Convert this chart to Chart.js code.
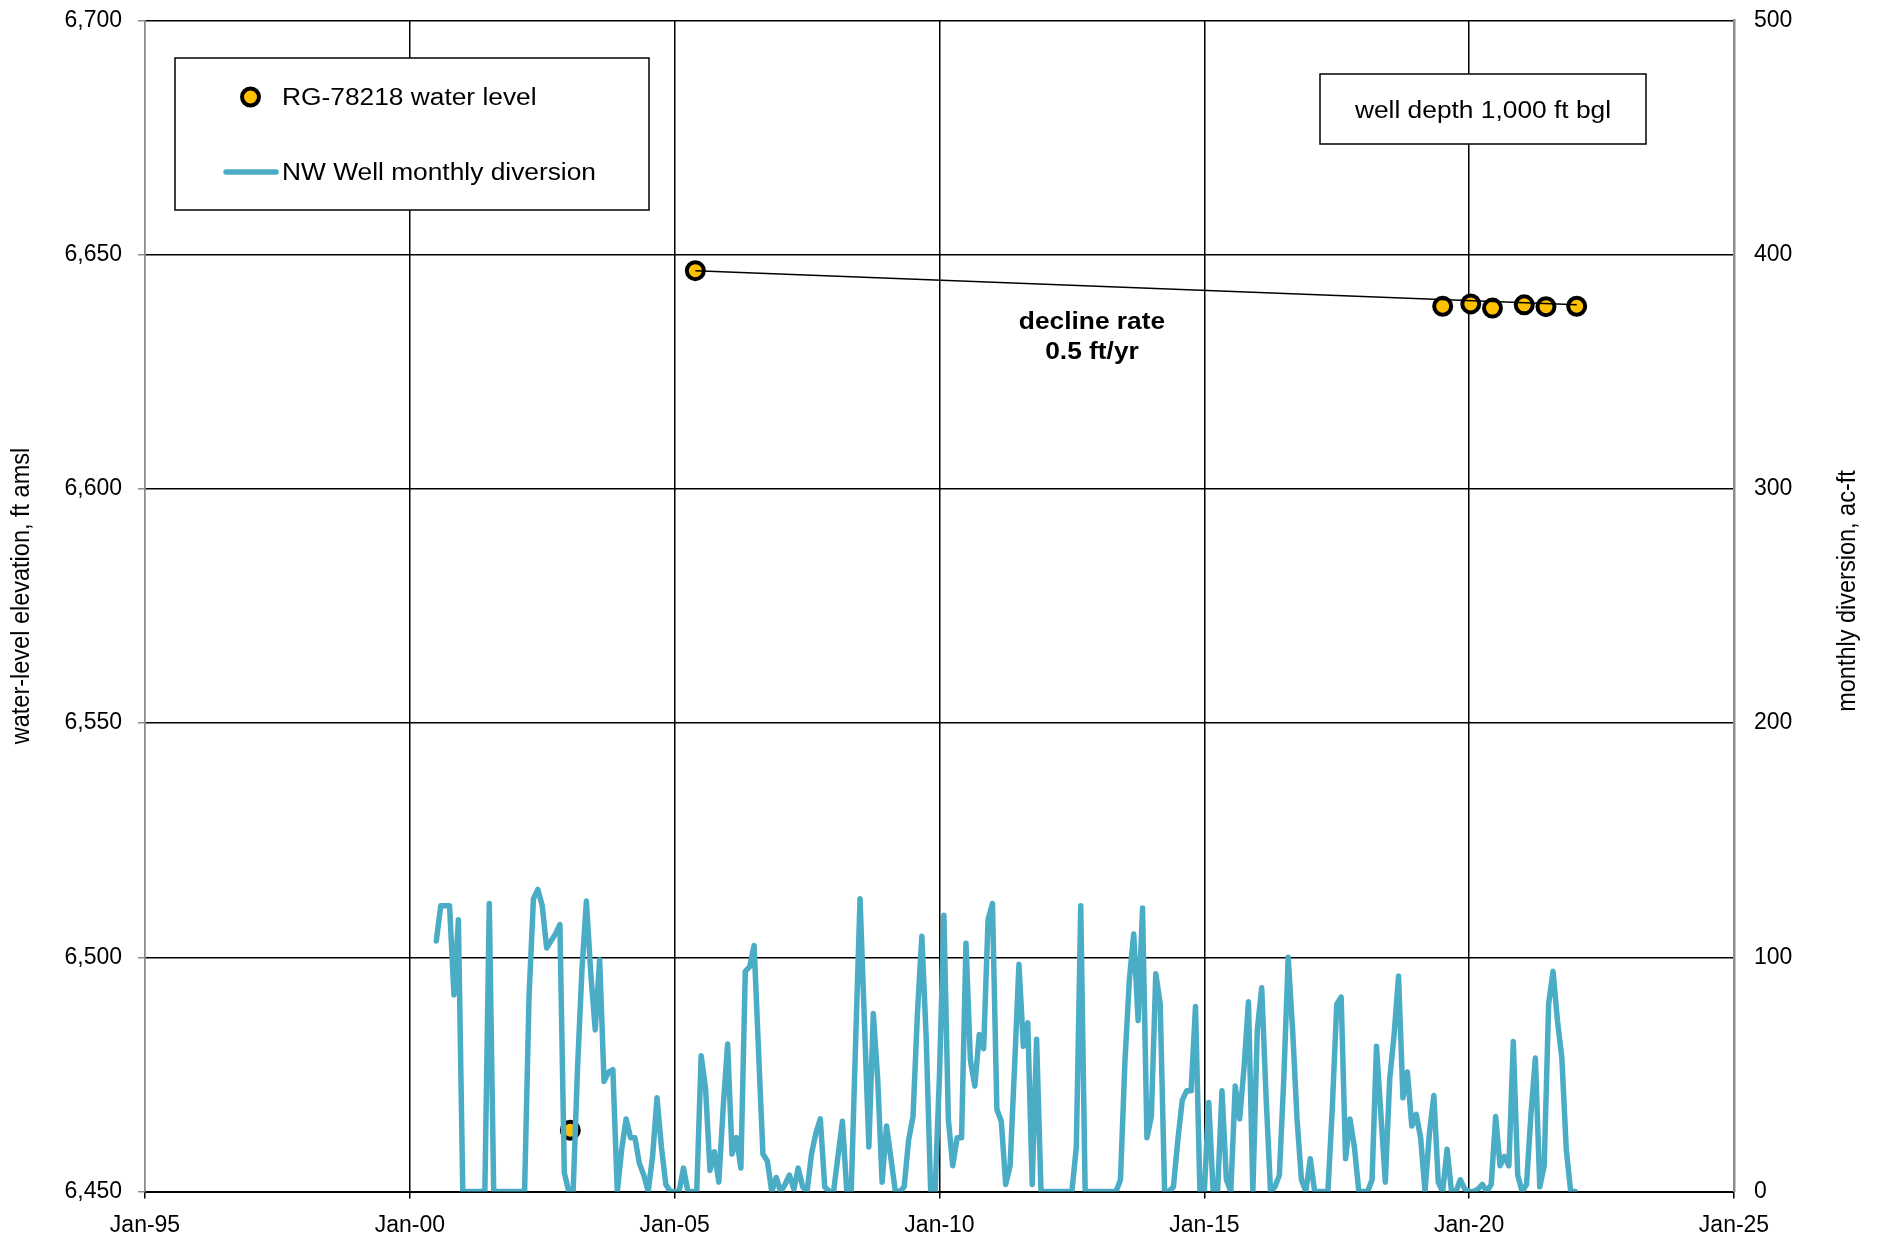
<!DOCTYPE html>
<html>
<head>
<meta charset="utf-8">
<script src="https://cdn.jsdelivr.net/npm/chart.js@4.4.1/dist/chart.umd.min.js"></script>
<style>
  html, body { margin: 0; padding: 0; background: #fff; }
  canvas { display: block; }
</style>
</head>
<body>
<canvas id="c" width="1881" height="1236"></canvas>
<script>
// ---------------- data ----------------
const xTickYears = [1995, 2000, 2005, 2010, 2015, 2020, 2025];
const leftTicks = [6450, 6500, 6550, 6600, 6650, 6700];
const rightTicks = [0, 100, 200, 300, 400, 500];

// RG-78218 water level (decimal year, ft amsl)
const waterDates  = [2003.03, 2005.39, 2019.50, 2020.03, 2020.44, 2021.04, 2021.45, 2022.03];
const waterLevels = [6463.1, 6646.6, 6639.0, 6639.5, 6638.6, 6639.3, 6638.9, 6639.0];

// trend line (decline rate 0.5 ft/yr)
const trendDates  = [2005.39, 2022.03];
const trendLevels = [6646.6, 6639.3];

// NW Well monthly diversion, ac-ft, monthly starting Jul 2000
const diversionStartYear = 2000;
const diversionStartMonth = 7;
const diversionValues = [
  107,122,122,122,84,116,0,0,0,0,0,0,123,0,0,0,0,0,0,0,0,83,125,129,
  122,104,107,110,114,8,0,0,53,95,124,93,69,99,47,51,52,0,18,31,23,23,12,7,
  0,15,40,19,3,0,0,0,10,0,0,0,58,44,9,17,4,36,63,16,23,10,94,96,
  105,60,16,13,0,6,0,3,7,1,10,2,0,16,25,31,2,0,0,15,30,0,0,64,
  125,72,19,76,48,4,28,14,0,0,2,22,32,76,109,65,0,0,50,118,31,11,23,23,
  106,56,45,67,61,116,123,35,30,3,11,53,97,62,72,3,65,0,0,0,0,0,0,0,
  0,19,122,0,0,0,0,0,0,0,0,5,55,90,110,73,121,23,32,93,80,0,0,2,
  22,39,43,43,79,0,0,38,0,0,43,5,0,45,31,53,81,0,69,87,40,0,2,7,
  48,100,69,31,5,0,14,0,0,0,0,36,80,83,14,31,19,0,0,0,5,62,33,4,
  48,67,92,40,51,28,33,23,0,25,41,4,0,18,0,0,5,1,0,0,1,3,0,3,
  32,11,15,11,64,7,0,3,33,57,2,11,80,94,73,57,18,0,0
];

// ---------------- build datasets ----------------
const divPoints = diversionValues.map((v, i) => ({
  x: diversionStartYear + (diversionStartMonth - 1 + i) / 12,
  y: v
}));
const waterPoints = waterDates.map((d, i) => ({ x: d, y: waterLevels[i] }));
const trendPoints = trendDates.map((d, i) => ({ x: d, y: trendLevels[i] }));

const BLUE = '#4BACC6';
const GOLD = '#FFC000';
const FONT = 'Liberation Sans, Arial, sans-serif';
const SX = 1.12; // horizontal stretch of the original artwork text

const overlay = {
  id: 'overlay',
  afterDraw(chart) {
    const ctx = chart.ctx;
    function drawText(str, x, y, font, align, rot) {
      ctx.save();
      ctx.translate(x, y);
      ctx.scale(SX, 1);
      if (rot) ctx.rotate(rot);
      ctx.font = font;
      ctx.textAlign = align;
      ctx.textBaseline = 'middle';
      ctx.fillStyle = '#000';
      ctx.fillText(str, 0, 0);
      ctx.restore();
    }
    ctx.save();
    // legend box
    ctx.fillStyle = '#fff';
    ctx.fillRect(175, 58, 474, 152);
    ctx.strokeStyle = '#000';
    ctx.lineWidth = 1.5;
    ctx.strokeRect(175, 58, 474, 152);
    // legend marker
    ctx.beginPath();
    ctx.arc(250.5, 97, 8.5, 0, Math.PI * 2);
    ctx.fillStyle = GOLD;
    ctx.fill();
    ctx.lineWidth = 4;
    ctx.strokeStyle = '#000';
    ctx.stroke();
    // legend line
    ctx.beginPath();
    ctx.moveTo(226, 172);
    ctx.lineTo(276, 172);
    ctx.strokeStyle = BLUE;
    ctx.lineWidth = 5.5;
    ctx.lineCap = 'round';
    ctx.stroke();
    ctx.restore();
    drawText('RG-78218 water level', 282, 99, '23.5px ' + FONT, 'left');
    drawText('NW Well monthly diversion', 282, 174, '23.5px ' + FONT, 'left');

    // well depth box
    ctx.save();
    ctx.fillStyle = '#fff';
    ctx.fillRect(1320, 74, 326, 70);
    ctx.strokeStyle = '#000';
    ctx.lineWidth = 1.5;
    ctx.strokeRect(1320, 74, 326, 70);
    ctx.restore();
    drawText('well depth 1,000 ft bgl', 1483, 112, '23.5px ' + FONT, 'center');

    // decline rate label
    drawText('decline rate', 1092, 323, 'bold 23.5px ' + FONT, 'center');
    drawText('0.5 ft/yr', 1092, 353, 'bold 23.5px ' + FONT, 'center');

    // axis titles
    drawText('water-level elevation, ft amsl', 22, 596, '23.5px ' + FONT, 'center', -Math.PI / 2);
    drawText('monthly diversion, ac-ft', 1848, 591, '23.5px ' + FONT, 'center', -Math.PI / 2);
  }
};

new Chart(document.getElementById('c'), {
  type: 'line',
  data: {
    datasets: [
      {
        label: 'decline trend',
        data: trendPoints,
        yAxisID: 'y',
        borderColor: '#000',
        borderWidth: 1.5,
        pointRadius: 0,
        order: 0
      },
      {
        label: 'NW Well monthly diversion',
        data: divPoints,
        yAxisID: 'y2',
        borderColor: BLUE,
        borderWidth: 5.5,
        borderJoinStyle: 'round',
        borderCapStyle: 'round',
        pointRadius: 0,
        tension: 0,
        order: 1
      },
      {
        label: 'RG-78218 water level',
        data: waterPoints,
        yAxisID: 'y',
        showLine: false,
        pointRadius: 8.5,
        pointBorderWidth: 4,
        pointBackgroundColor: GOLD,
        pointBorderColor: '#000',
        order: 2
      }
    ]
  },
  options: {
    responsive: false,
    animation: false,
    layout: { padding: { top: 20.5, left: 0, right: 0, bottom: 0 } },
    plugins: { legend: { display: false }, tooltip: { enabled: false } },
    scales: {
      x: {
        type: 'linear',
        min: xTickYears[0],
        max: xTickYears[xTickYears.length - 1],
        afterBuildTicks: (s) => { s.ticks = xTickYears.map(v => ({ value: v })); },
        afterFit: (s) => { s.height = 44.5; },
        ticks: {
          callback: (v) => 'Jan-' + String(v % 100).padStart(2, '0'),
          font: { family: FONT, size: 23 },
          color: '#000',
          padding: 13,
          maxRotation: 0
        },
        grid: {
          color: (c) => (c.tick && (c.tick.value === 1995 || c.tick.value === 2025)) ? '#8c8c8c' : '#000',
          lineWidth: 1.5,
          tickLength: 7,
          tickColor: '#000'
        },
        border: { color: '#000', width: 2 }
      },
      y: {
        position: 'left',
        min: leftTicks[0],
        max: leftTicks[leftTicks.length - 1],
        afterBuildTicks: (s) => { s.ticks = leftTicks.map(v => ({ value: v })); },
        afterFit: (s) => { s.width = 145; s.paddingTop = 0; s.paddingBottom = 0; },
        ticks: {
          callback: (v) => v.toLocaleString('en-US'),
          font: { family: FONT, size: 23 },
          color: '#000',
          padding: 16
        },
        grid: {
          color: '#000',
          lineWidth: 1.5,
          tickLength: 7,
          tickColor: '#8c8c8c'
        },
        border: { color: '#8c8c8c', width: 1.5 }
      },
      y2: {
        position: 'right',
        min: rightTicks[0],
        max: rightTicks[rightTicks.length - 1],
        afterBuildTicks: (s) => { s.ticks = rightTicks.map(v => ({ value: v })); },
        afterFit: (s) => { s.width = 147; s.paddingTop = 0; s.paddingBottom = 0; },
        ticks: {
          font: { family: FONT, size: 23 },
          color: '#000',
          padding: 20
        },
        grid: { drawOnChartArea: false, tickLength: 0, drawTicks: false },
        border: { color: '#8c8c8c', width: 2.5 }
      }
    }
  },
  plugins: [overlay]
});
</script>
</body>
</html>
